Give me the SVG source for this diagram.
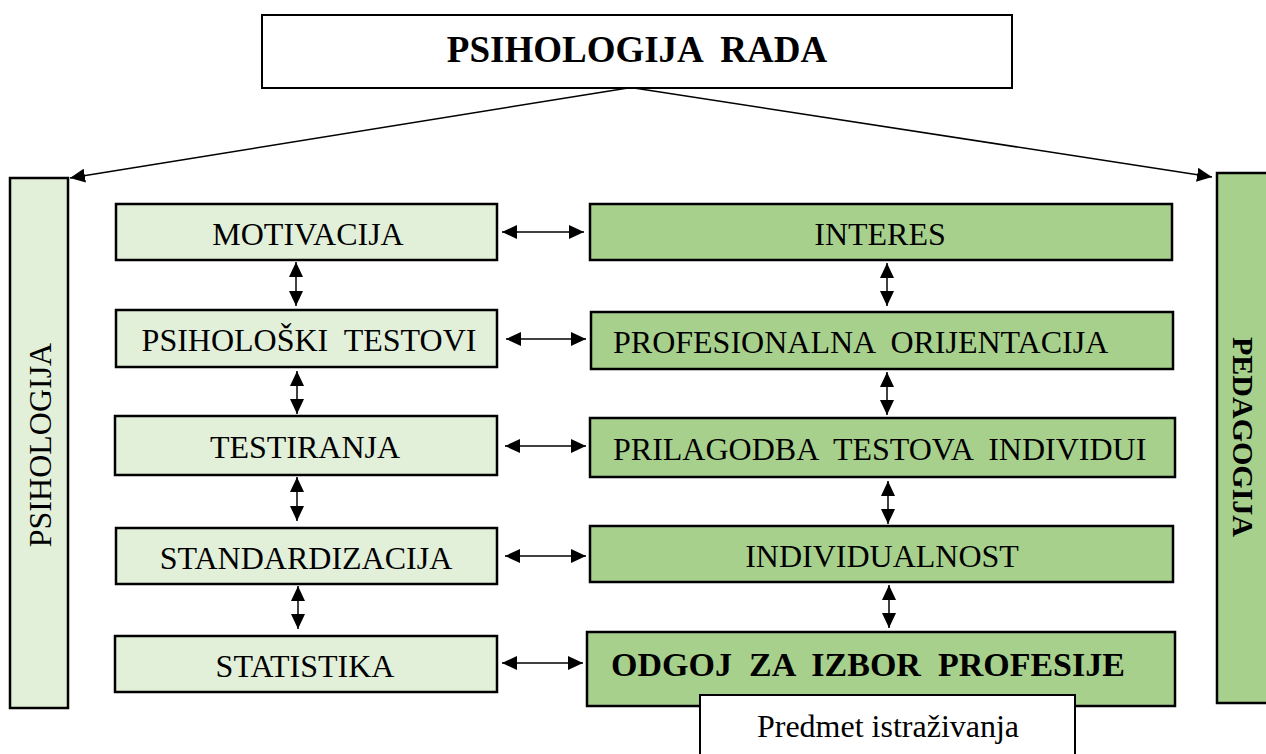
<svg xmlns="http://www.w3.org/2000/svg" width="1266" height="754" viewBox="0 0 1266 754">
<style>
  .lt { fill: #e2efd9; stroke: #000; stroke-width: 2.5; }
  .dk { fill: #a8d08d; stroke: #000; stroke-width: 2.5; }
  .wh { fill: #ffffff; stroke: #000; stroke-width: 2; }
  .t { font-family: "Liberation Serif", "Times New Roman", serif; font-size: 32px; fill: #000; white-space: pre; }
  .b { font-weight: bold; }
  .c { text-anchor: middle; }
  .con line { stroke: #000; stroke-width: 1.5; marker-start: url(#ah); marker-end: url(#ah); }
  .con line.one { marker-start: none; }
</style>
<defs>
  <marker id="ah" viewBox="0 0 15 14" refX="15" refY="7" markerWidth="15" markerHeight="14" markerUnits="userSpaceOnUse" orient="auto-start-reverse">
    <path d="M0,0 L15,7 L0,14 z" fill="#000"/>
  </marker>
</defs>
<rect width="1266" height="754" fill="#fff"/>

<g id="title">
  <rect class="wh" x="262" y="15" width="750" height="73"/>
  <text class="t b c" x="637" y="62" style="font-size:37px" xml:space="preserve">PSIHOLOGIJA  RADA</text>
</g>

<g id="psihologija">
  <rect class="lt" x="10" y="178" width="58" height="530"/>
  <text class="t c" transform="translate(51,445) rotate(-90)">PSIHOLOGIJA</text>
</g>
<g id="pedagogija">
  <rect class="dk" x="1217" y="173" width="60" height="530"/>
  <text class="t b c" style="font-size:30px" transform="translate(1233,437) rotate(90)">PEDAGOGIJA</text>
</g>

<g id="motivacija">
  <rect class="lt" x="116" y="204" width="381" height="56"/>
  <text class="t c" x="308" y="245">MOTIVACIJA</text>
</g>
<g id="psiholoski-testovi">
  <rect class="lt" x="116" y="310" width="381" height="57"/>
  <text class="t c" x="309" y="351" xml:space="preserve">PSIHOLOŠKI  TESTOVI</text>
</g>
<g id="testiranja">
  <rect class="lt" x="115" y="416" width="382" height="59"/>
  <text class="t c" x="305" y="458">TESTIRANJA</text>
</g>
<g id="standardizacija">
  <rect class="lt" x="116" y="528" width="381" height="56"/>
  <text class="t c" x="306" y="569">STANDARDIZACIJA</text>
</g>
<g id="statistika">
  <rect class="lt" x="115" y="636" width="382" height="56"/>
  <text class="t c" x="305" y="677">STATISTIKA</text>
</g>

<g id="interes">
  <rect class="dk" x="590" y="204" width="582" height="56"/>
  <text class="t c" x="880" y="245">INTERES</text>
</g>
<g id="profesionalna-orijentacija">
  <rect class="dk" x="591" y="312" width="582" height="57"/>
  <text class="t" x="613" y="353" xml:space="preserve">PROFESIONALNA  ORIJENTACIJA</text>
</g>
<g id="prilagodba">
  <rect class="dk" x="590" y="418" width="585" height="59"/>
  <text class="t" x="613" y="460" xml:space="preserve">PRILAGODBA  TESTOVA  INDIVIDUI</text>
</g>
<g id="individualnost">
  <rect class="dk" x="590" y="526" width="583" height="56"/>
  <text class="t c" x="882" y="567">INDIVIDUALNOST</text>
</g>
<g id="odgoj">
  <rect class="dk" x="587" y="632" width="588" height="74"/>
  <text class="t b c" x="868" y="676" style="font-size:34px" xml:space="preserve">ODGOJ  ZA  IZBOR  PROFESIJE</text>
</g>
<g id="predmet">
  <rect class="wh" x="700" y="695" width="375" height="70"/>
  <text class="t c" x="888" y="737">Predmet istraživanja</text>
</g>

<g id="connectors" class="con">
  <line class="one" x1="628" y1="88" x2="70" y2="178"/>
  <line class="one" x1="634" y1="88" x2="1212" y2="177"/>

  <line x1="502" y1="232" x2="584" y2="232"/>
  <line x1="506" y1="339" x2="586" y2="339"/>
  <line x1="505" y1="446" x2="586" y2="446"/>
  <line x1="505" y1="556" x2="586" y2="556"/>
  <line x1="502" y1="663" x2="583" y2="663"/>

  <line x1="296" y1="262" x2="296" y2="306"/>
  <line x1="297" y1="371" x2="297" y2="414"/>
  <line x1="297" y1="477" x2="297" y2="521"/>
  <line x1="298" y1="586" x2="298" y2="629"/>

  <line x1="887" y1="263" x2="887" y2="306"/>
  <line x1="887" y1="372" x2="887" y2="415"/>
  <line x1="888" y1="481" x2="888" y2="524"/>
  <line x1="889" y1="585" x2="889" y2="628"/>
</g>
</svg>
